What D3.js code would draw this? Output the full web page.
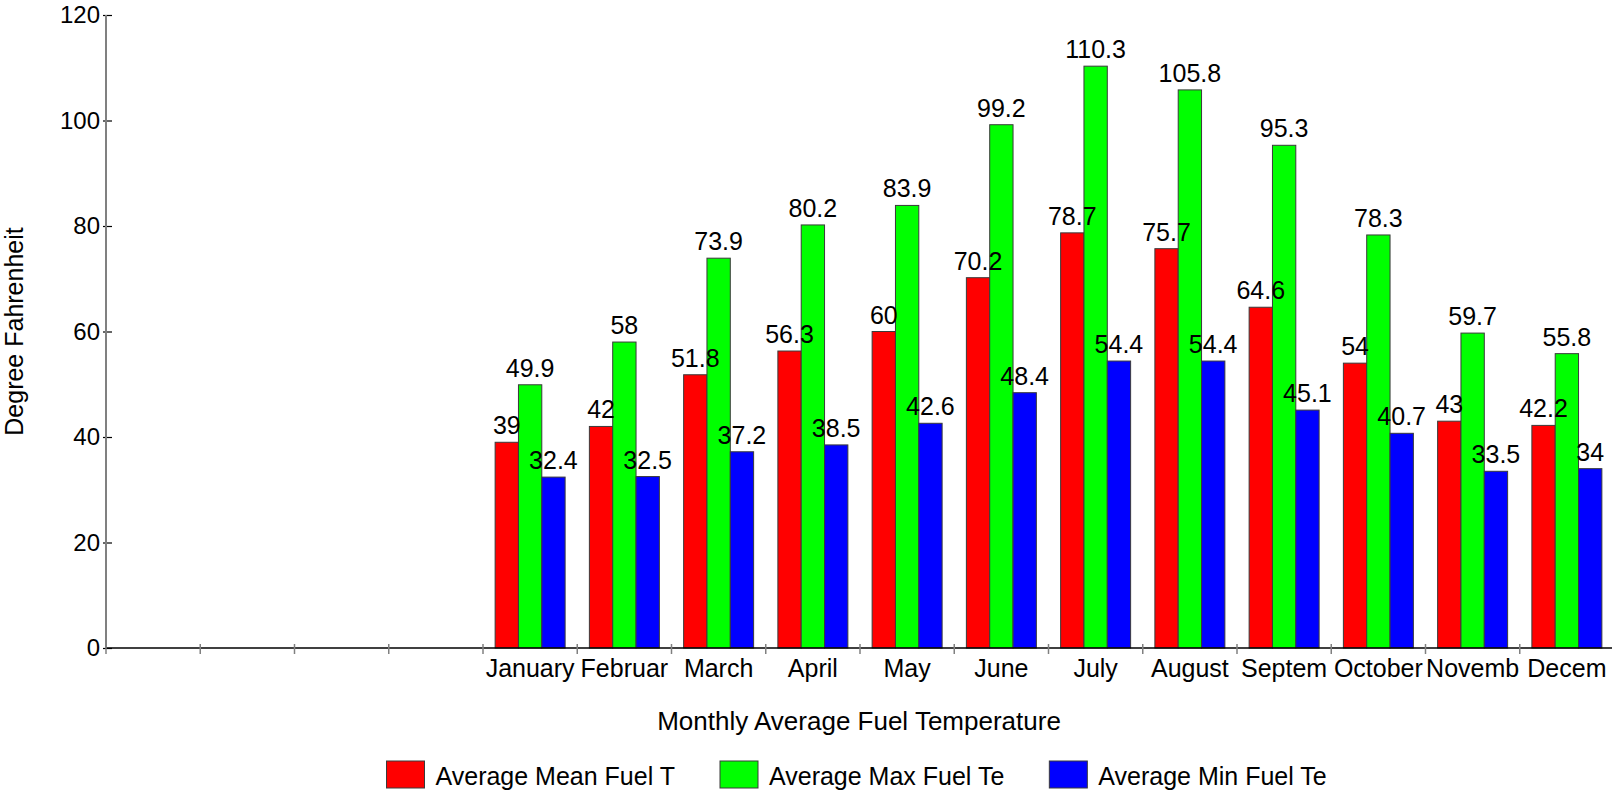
<!DOCTYPE html>
<html>
<head>
<meta charset="utf-8">
<script src="https://cdn.jsdelivr.net/npm/d3@7"></script>
<style>
  html, body { margin: 0; padding: 0; background: #fff; }
  svg { display: block; font-family: "Liberation Sans", Arial, sans-serif; }
</style>
</head>
<body>
<svg id="chart" width="1612" height="793"></svg>
<script>
// ---- Data ----
const categories = ["", "", "", "", "January", "Februar", "March", "April", "May", "June", "July", "August", "Septem", "October", "Novemb", "Decem"];
const seriesNames = ["Average Mean Fuel T", "Average Max Fuel Te", "Average Min Fuel Te"];
const seriesColors = ["#ff0000", "#00ff00", "#0000ff"];
const meanValues = [null, null, null, null, 39, 42, 51.8, 56.3, 60, 70.2, 78.7, 75.7, 64.6, 54, 43, 42.2];
const maxValues  = [null, null, null, null, 49.9, 58, 73.9, 80.2, 83.9, 99.2, 110.3, 105.8, 95.3, 78.3, 59.7, 55.8];
const minValues  = [null, null, null, null, 32.4, 32.5, 37.2, 38.5, 42.6, 48.4, 54.4, 54.4, 45.1, 40.7, 33.5, 34];
const yTicks = [0, 20, 40, 60, 80, 100, 120];
const xTitle = "Monthly Average Fuel Temperature";
const yTitle = "Degree Fahrenheit";

const seriesValues = [meanValues, maxValues, minValues];

// ---- Layout ----
const svg = d3.select("#chart");
const plot = { left: 106, right: 1614, top: 15, bottom: 648 };

const x = d3.scaleBand().domain(d3.range(categories.length)).range([plot.left, plot.right]).paddingInner(0).paddingOuter(0);
const x1 = d3.scaleBand().domain(d3.range(seriesNames.length)).range([0, x.bandwidth()]).paddingInner(0).paddingOuter(0.52);
const y = d3.scaleLinear().domain([0, 120]).range([plot.bottom, plot.top]);

// bars
const barData = [];
seriesValues.forEach((vals, s) => vals.forEach((v, i) => { if (v !== null) barData.push({ s, i, v }); }));

svg.append("g").selectAll("rect").data(barData).join("rect")
  .attr("x", d => x(d.i) + x1(d.s))
  .attr("y", d => y(d.v))
  .attr("width", x1.bandwidth())
  .attr("height", d => y(0) - y(d.v))
  .attr("fill", d => seriesColors[d.s])
  .attr("stroke", "#3a3a3a")
  .attr("stroke-width", 1);

// y axis
const yAxisG = svg.append("g").attr("transform", `translate(${plot.left},0)`)
  .call(d3.axisLeft(y).tickValues(yTicks).tickSize(0).tickPadding(6).tickFormat(d3.format("d")));
yAxisG.select(".domain").remove();
yAxisG.selectAll("text").attr("font-size", 24).attr("fill", "#000").attr("font-family", "Liberation Sans, Arial, sans-serif");
yAxisG.append("line").attr("x1", 0).attr("x2", 0).attr("y1", y(120)).attr("y2", y(0)).attr("stroke", "#808080").attr("stroke-width", 2);
yAxisG.selectAll(".tick").append("line").attr("x1", -3).attr("x2", 6).attr("stroke", "#000").attr("stroke-width", 1.2);

// x axis
const xAxisG = svg.append("g").attr("transform", `translate(0,${plot.bottom})`);
xAxisG.append("line").attr("x1", plot.left).attr("x2", plot.right).attr("stroke", "#000").attr("stroke-width", 1.5);
xAxisG.selectAll("line.tk").data(d3.range(categories.length)).join("line").attr("class", "tk")
  .attr("x1", d => x(d)).attr("x2", d => x(d)).attr("y1", -4).attr("y2", 6)
  .attr("stroke", "#808080").attr("stroke-width", 1.5);
xAxisG.selectAll("text").data(categories).join("text")
  .attr("x", (d, i) => x(i) + x.bandwidth() / 2)
  .attr("y", 29)
  .attr("text-anchor", "middle")
  .attr("font-size", 25)
  .attr("fill", "#000")
  .text(d => d);

// value labels (on top of bars)
svg.append("g").selectAll("text").data(barData).join("text")
  .attr("x", d => x(d.i) + x1(d.s) + x1.bandwidth() / 2)
  .attr("y", d => y(d.v) - 8)
  .attr("text-anchor", "middle")
  .attr("font-size", 25)
  .attr("fill", "#000")
  .text(d => d.v);

// axis titles
svg.append("text")
  .attr("x", (plot.left + plot.right) / 2 - 1)
  .attr("y", 730)
  .attr("text-anchor", "middle")
  .attr("font-size", 26)
  .text(xTitle);

svg.append("text")
  .attr("transform", `translate(23,${(plot.top + plot.bottom) / 2}) rotate(-90)`)
  .attr("text-anchor", "middle")
  .attr("font-size", 25)
  .text(yTitle);

// legend
const legend = svg.append("g");
const items = legend.selectAll("g").data(seriesNames).join("g");
items.append("rect").attr("width", 38).attr("height", 27).attr("y", 761)
  .attr("fill", (d, i) => seriesColors[i]).attr("stroke", "#3a3a3a").attr("stroke-width", 1);
items.append("text").attr("x", 49).attr("y", 785).attr("font-size", 25).text(d => d);
let cursor = 0;
const offsets = [];
items.each(function () {
  offsets.push(cursor);
  const w = d3.select(this).select("text").node().getComputedTextLength();
  cursor += 49 + w + 45;
});
const startX = 386.5;
items.attr("transform", (d, i) => `translate(${startX + offsets[i]},0)`);
</script>
</body>
</html>
